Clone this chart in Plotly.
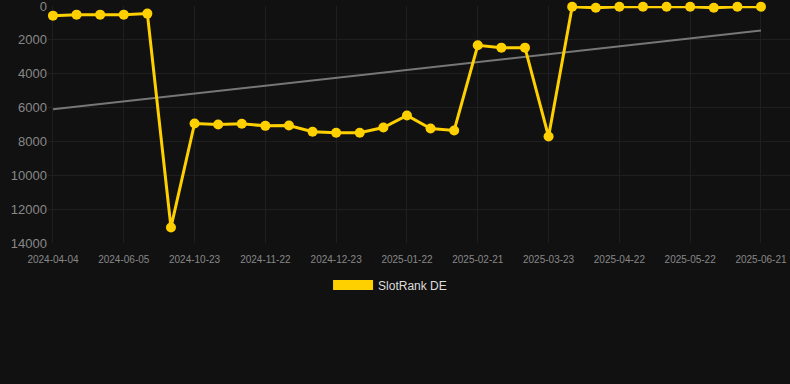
import plotly.graph_objects as go

dates = [
    "2024-04-04", "2024-04-25", "2024-05-15", "2024-06-05", "2024-07-20", "2024-09-05",
    "2024-10-23", "2024-11-02", "2024-11-12", "2024-11-22", "2024-12-02", "2024-12-12",
    "2024-12-23", "2025-01-02", "2025-01-12", "2025-01-22", "2025-02-01", "2025-02-11",
    "2025-02-21", "2025-03-03", "2025-03-13", "2025-03-23", "2025-04-02", "2025-04-12",
    "2025-04-22", "2025-05-02", "2025-05-12", "2025-05-22", "2025-06-01", "2025-06-11",
    "2025-06-21",
]
rank_de = [
    570, 510, 510, 510, 450, 13080,
    6940, 7000, 6960, 7080, 7060, 7430,
    7490, 7490, 7180, 6470, 7240, 7355,
    2320, 2460, 2460, 7710, 40, 100,
    40, 40, 40, 40, 100, 40,
    40,
]
trend_x = [dates[0], dates[-1]]
trend_y = [6100, 1450]
tick_labels = dates[::3]
y_ticks = [0, 2000, 4000, 6000, 8000, 10000, 12000, 14000]

fig = go.Figure()
fig.add_trace(go.Scatter(
    x=trend_x, y=trend_y, mode="lines",
    line=dict(color="#777777", width=2),
    showlegend=False, hoverinfo="skip",
))
fig.add_trace(go.Scatter(
    x=dates, y=rank_de, mode="lines+markers",
    line=dict(color="#FFD000", width=3),
    marker=dict(color="#FFD000", size=10),
    cliponaxis=False,
    showlegend=False,
))
fig.add_trace(go.Scatter(
    x=[None], y=[None], mode="lines", name="SlotRank DE",
    line=dict(color="#FFD000", width=12),
))

fig.update_layout(
    width=790, height=384,
    paper_bgcolor="#111111", plot_bgcolor="#111111",
    margin=dict(l=48, r=0, t=6, b=141),
    font=dict(family="Liberation Sans, Arial, sans-serif", color="#999999"),
    legend=dict(
        orientation="h", x=0.461, xanchor="center", y=-0.177, yanchor="middle",
        font=dict(size=12, color="#dddddd"), itemwidth=40,
        bgcolor="rgba(0,0,0,0)",
    ),
    xaxis=dict(
        type="category", categoryorder="array", categoryarray=dates,
        range=[-0.21, 31.23],
        tickmode="array", tickvals=tick_labels, ticktext=tick_labels,
        tickfont=dict(size=10, color="#888888"),
        ticklabelstandoff=9,
        showgrid=True, gridcolor="#1f1f1f", gridwidth=1,
        zeroline=False, showline=False, ticks="",
    ),
    yaxis=dict(
        range=[14000, 0], tickvals=y_ticks, tickformat="d",
        tickfont=dict(size=13, color="#888888"),
        ticklabeloverflow="allow",
        showgrid=True, gridcolor="#1f1f1f", gridwidth=1,
        zeroline=False, showline=False, ticks="",
    ),
)

fig.write_html(
    "out.html",
    config={"displayModeBar": False},
    post_script="document.body.style.margin='0';document.body.style.background='#111111';",
)
